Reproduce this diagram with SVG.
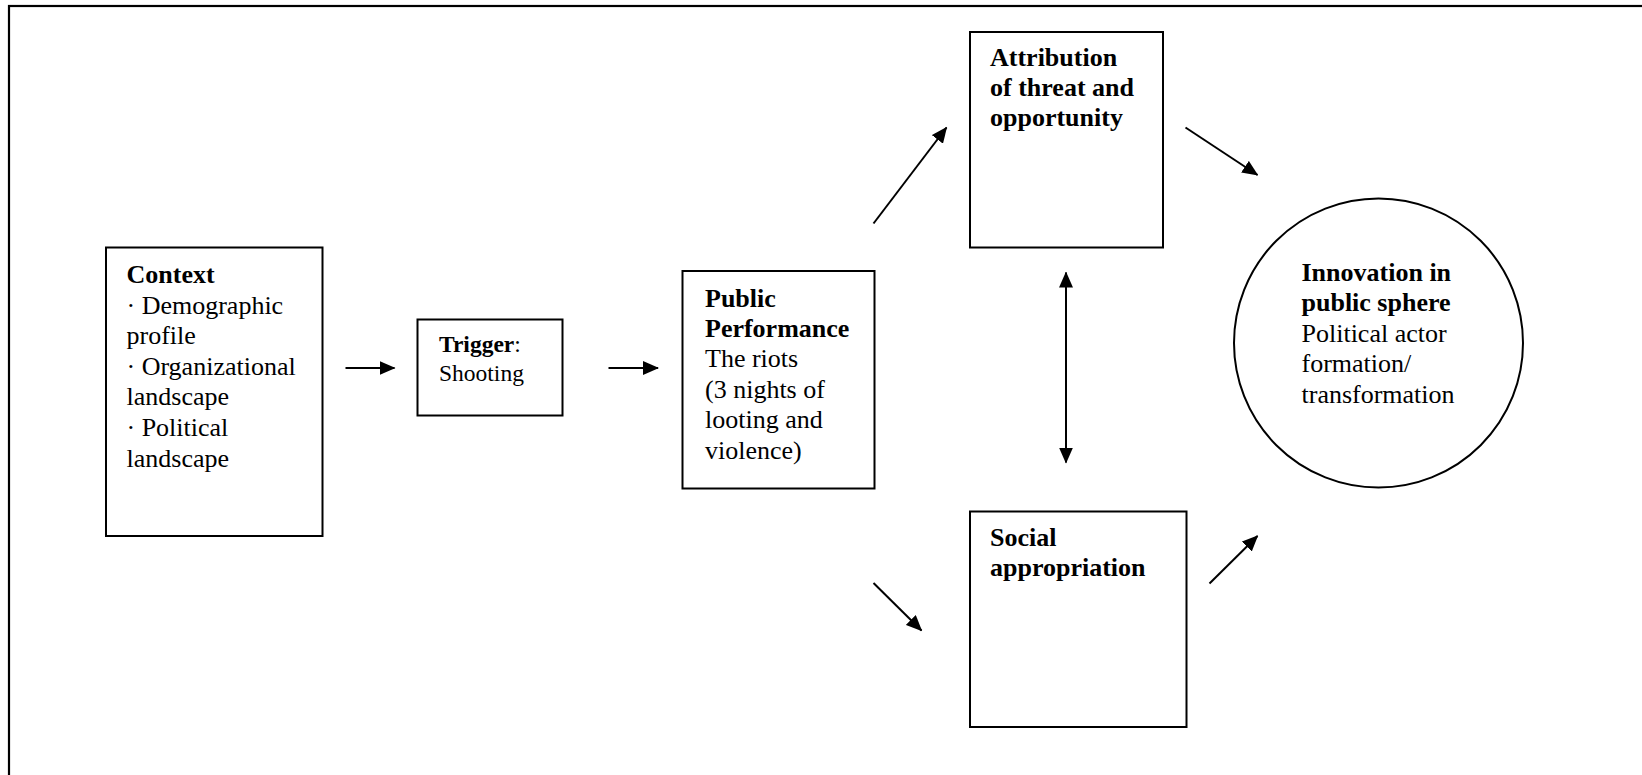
<svg xmlns="http://www.w3.org/2000/svg" width="1642" height="775" viewBox="0 0 1642 775">
<style>
.box{fill:#fff;stroke:#000;stroke-width:2}
.t{font-family:"Liberation Serif","Times New Roman",serif;font-size:26px;fill:#000}
.b{font-weight:bold}
.sm{font-size:23.5px}
.c{fill:none;stroke:#000;stroke-width:2}
</style>
<defs>
<marker id="ah" markerUnits="userSpaceOnUse" markerWidth="16" markerHeight="14" refX="15" refY="7" orient="auto-start-reverse" viewBox="0 0 16 14">
<path d="M0,0 L16,7 L0,14 z" fill="#000"/>
</marker>
</defs>
<rect x="0" y="0" width="1642" height="775" fill="#fff"/>
<rect id="frame" x="9" y="6" width="1700" height="900" fill="none" stroke="#000" stroke-width="2.2"/>
<g id="context">
<rect class="box" x="106" y="247.5" width="216.5" height="288.5"/>
<text class="t" x="126.5"><tspan class="b" x="126.5" y="283">Context</tspan><tspan x="126.5" y="313.6">· Demographic</tspan><tspan x="126.5" y="344.2">profile</tspan><tspan x="126.5" y="374.8">· Organizational</tspan><tspan x="126.5" y="405.4">landscape</tspan><tspan x="126.5" y="436">· Political</tspan><tspan x="126.5" y="466.6">landscape</tspan></text>
</g>
<g id="trigger">
<rect class="box" x="417.5" y="319.5" width="145" height="96"/>
<text class="t sm" x="439"><tspan class="b" x="439" y="352">Trigger</tspan><tspan>:</tspan><tspan x="439" y="380.5">Shooting</tspan></text>
</g>
<g id="public">
<rect class="box" x="682.5" y="271" width="192" height="217.5"/>
<text class="t" x="705"><tspan class="b" x="705" y="306.5">Public</tspan><tspan class="b" x="705" y="336.9">Performance</tspan><tspan x="705" y="367.3">The riots</tspan><tspan x="705" y="397.7">(3 nights of</tspan><tspan x="705" y="428.1">looting and</tspan><tspan x="705" y="458.5">violence)</tspan></text>
</g>
<g id="attribution">
<rect class="box" x="970" y="32" width="193" height="215.5"/>
<text class="t b" x="990"><tspan x="990" y="66">Attribution</tspan><tspan x="990" y="96.2">of threat and</tspan><tspan x="990" y="126.4">opportunity</tspan></text>
</g>
<g id="social">
<rect class="box" x="970" y="511.5" width="216.5" height="215.5"/>
<text class="t b" x="990"><tspan x="990" y="546">Social</tspan><tspan x="990" y="576.2">appropriation</tspan></text>
</g>
<g id="innovation">
<circle class="box" cx="1378.5" cy="343" r="144.5"/>
<text class="t" x="1301.5"><tspan class="b" x="1301.5" y="281">Innovation in</tspan><tspan class="b" x="1301.5" y="311.4">public sphere</tspan><tspan x="1301.5" y="341.8">Political actor</tspan><tspan x="1301.5" y="372.2">formation/</tspan><tspan x="1301.5" y="402.6">transformation</tspan></text>
</g>
<g id="connectors">
<line class="c" x1="345.5" y1="368" x2="394.5" y2="368" marker-end="url(#ah)"/>
<line class="c" x1="608.5" y1="368" x2="658" y2="368" marker-end="url(#ah)"/>
<line class="c" x1="873.5" y1="223.5" x2="946.5" y2="127.5" marker-end="url(#ah)"/>
<line class="c" x1="1185.5" y1="127.5" x2="1257.5" y2="175" marker-end="url(#ah)"/>
<line class="c" x1="873.5" y1="583" x2="921.5" y2="630.5" marker-end="url(#ah)"/>
<line class="c" x1="1209.5" y1="583.5" x2="1257.5" y2="536" marker-end="url(#ah)"/>
<line class="c" x1="1066" y1="272.5" x2="1066" y2="462.5" marker-start="url(#ah)" marker-end="url(#ah)"/>
</g>
</svg>
